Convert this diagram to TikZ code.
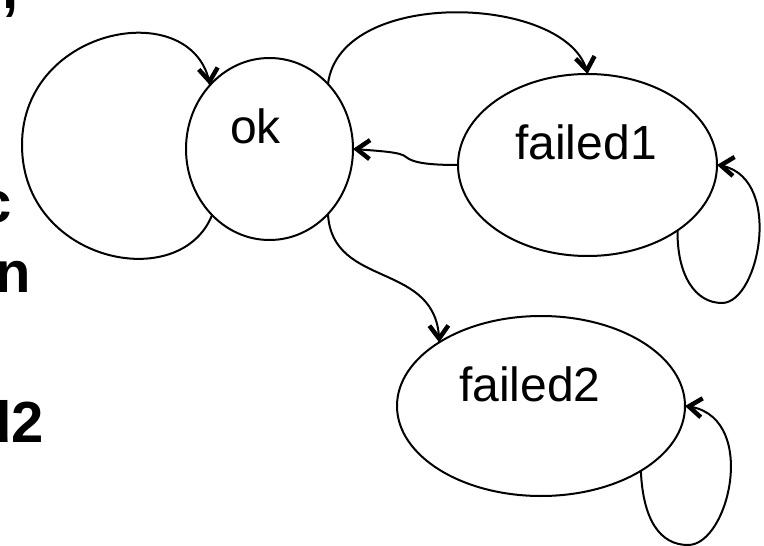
\documentclass[tikz,border=0pt]{standalone}
\usepackage{fontspec}
\setmainfont{Liberation Sans}
\usetikzlibrary{shapes.geometric}

\tikzset{
  state/.style={ellipse, draw, line width=2pt, inner sep=0pt, outer sep=0pt},
  lbl/.style={anchor=base, inner sep=0pt, font=\fontsize{48}{58}\selectfont},
  bgtext/.style={anchor=base east, inner sep=0pt, font=\fontsize{58}{70}\selectfont\bfseries},
  trans/.style={draw, line width=2pt},
  % heavy open chevron placed at the end of a transition (filled outline)
  chev/.pic={\fill
      (-15.5pt,11.3pt) -- (0pt,0pt) -- (-15.5pt,-11.3pt) -- (-18.1pt,-7.7pt)
      -- (-7.6pt,0pt) -- (-18.1pt,7.7pt) -- cycle;},
}

\begin{document}
\begin{tikzpicture}[x=1pt,y=-1pt]
\useasboundingbox (0,0) rectangle (764,546);
\clip (0,0) rectangle (764,546);

% text of the slide underneath, cut by the left edge
\node[bgtext] (w1) at (19,9) {,};
\node[bgtext] (w2) at (12,222) {c};
\node[bgtext] (w3) at (31,292) {n};
\node[bgtext] (w4) at (44,442) {d2};

% states
\node[state, minimum width=167pt, minimum height=182pt] (ok) at (269.5,149) {};
\node[state, minimum width=259pt, minimum height=182pt] (f1) at (587.5,165) {};
\node[state, minimum width=288pt, minimum height=180pt] (f2) at (541,406) {};

\node[lbl] (okt) at (255.6,143) {ok};
\node[lbl] (f1t) at (586,159) {failed1};
\node[lbl] (f2t) at (530,401) {failed2};

% helper points on the curved transitions
\coordinate (okl)  at (22,145);
\coordinate (kink) at (406,157);
\coordinate (f1b)  at (722,303);
\coordinate (f2b)  at (688,545);

% transitions
\path[trans] (ok.229) .. controls (180,295) and (22,262) .. (okl)
                      .. controls (22,25) and (195,-5) .. (ok.133);
\path[trans] (ok.48) .. controls (340,-15) and (573,-5) .. (f1.90);
\path[trans] (f1.180) .. controls (430,165) and (413,163) .. (kink)
                      .. controls (401,152) and (380,151) .. (ok.0);
\path[trans] (f1.324) .. controls (677,275) and (695,303) .. (f1b)
                      .. controls (760,303) and (785,172) .. (f1.0);
\path[trans] (ok.312) .. controls (332,290) and (439,260) .. (f2.148);
\path[trans] (f2.327) .. controls (643,520) and (660,545) .. (f2b)
                      .. controls (730,545) and (760,412) .. (f2.0);

% arrow heads
\pic[rotate=-84] at (ok.133) {chev};
\pic[rotate=-82] at (f1.90) {chev};
\pic[rotate=178] at (ok.0) {chev};
\pic[rotate=175] at (f1.0) {chev};
\pic[rotate=-89] at (f2.148) {chev};
\pic[rotate=174] at (f2.0) {chev};
\end{tikzpicture}
\end{document}
